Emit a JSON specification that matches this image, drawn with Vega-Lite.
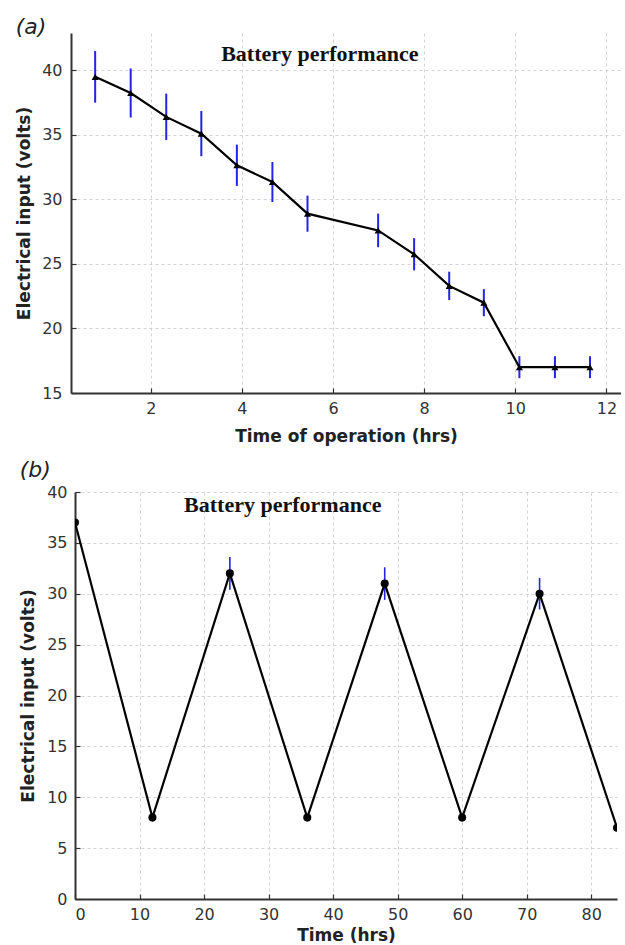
{
  "$schema": "https://vega.github.io/schema/vega-lite/v6.json",
  "background": "white",
  "padding": {"left": 15, "top": 16, "right": 0, "bottom": 0},
  "bounds": "flush",
  "center": true,
  "spacing": 99,
  "config": {
    "font": "DejaVu Sans",
    "view": {"stroke": null},
    "axis": {
      "labelFont": "DejaVu Sans", "labelFontSize": 16, "labelColor": "#333333",
      "titleFont": "DejaVu Sans", "titleFontSize": 17, "titleFontWeight": "bold", "titleColor": "#222222",
      "domainColor": "#333333", "domainWidth": 2,
      "tickColor": "#333333", "tickSize": -5, "tickWidth": 1.2,
      "gridColor": "#c8c8c8", "gridDash": [3, 3], "gridWidth": 0.8,
      "labelPadding": 14
    },
    "title": {"font": "DejaVu Sans", "fontSize": 22, "fontWeight": "normal", "fontStyle": "italic", "anchor": "start", "frame": "bounds", "color": "#222222"}
  },
  "vconcat": [
    {
      "width": 550,
      "height": 360,
      "title": {"text": "(a)", "offset": -6},
      "data": {"values": [
        {"t": 0.78, "v": 39.5, "err": 2.0},
        {"t": 1.56, "v": 38.25, "err": 1.9},
        {"t": 2.34, "v": 36.4, "err": 1.8},
        {"t": 3.11, "v": 35.1, "err": 1.75},
        {"t": 3.89, "v": 32.65, "err": 1.6},
        {"t": 4.67, "v": 31.35, "err": 1.55},
        {"t": 5.44, "v": 28.9, "err": 1.4},
        {"t": 6.99, "v": 27.6, "err": 1.3},
        {"t": 7.78, "v": 25.75, "err": 1.25},
        {"t": 8.55, "v": 23.3, "err": 1.1},
        {"t": 9.31, "v": 22.0, "err": 1.05},
        {"t": 10.09, "v": 17.0, "err": 0.85},
        {"t": 10.87, "v": 17.0, "err": 0.85},
        {"t": 11.64, "v": 17.0, "err": 0.85}
      ]},
      "layer": [
        {"mark": {"type": "errorbar", "color": "#2424e6", "thickness": 2, "ticks": false},
         "encoding": {
           "x": {"field": "t", "type": "quantitative",
                 "scale": {"domain": [0.25, 12.32], "nice": false, "zero": false},
                 "axis": {"values": [2, 4, 6, 8, 10, 12], "title": "Time of operation (hrs)", "titlePadding": 12, "labelPadding": 12}},
           "y": {"field": "v", "type": "quantitative",
                 "scale": {"domain": [15, 42.9], "nice": false, "zero": false},
                 "axis": {"values": [15, 20, 25, 30, 35, 40], "title": "Electrical input (volts)", "titlePadding": 8}},
           "yError": {"field": "err"}}},
        {"mark": {"type": "line", "color": "black", "strokeWidth": 2.2, "clip": true},
         "encoding": {"x": {"field": "t", "type": "quantitative"}, "y": {"field": "v", "type": "quantitative"}}},
        {"mark": {"type": "point", "shape": "triangle-up", "filled": true, "color": "black", "opacity": 1, "size": 50, "clip": true},
         "encoding": {"x": {"field": "t", "type": "quantitative"}, "y": {"field": "v", "type": "quantitative"}}},
        {"data": {"values": [{"label": "Battery performance"}]},
         "mark": {"type": "text", "font": "Liberation Serif", "fontWeight": "bold", "fontSize": 22, "align": "center", "baseline": "alphabetic", "color": "#111111"},
         "encoding": {"x": {"datum": 5.71, "type": "quantitative"}, "y": {"datum": 40.75, "type": "quantitative"}, "text": {"field": "label"}}}
      ]
    },
    {
      "width": 542,
      "height": 407,
      "title": {"text": "(b)", "offset": 2},
      "data": {"values": [
        {"t": 0, "v": 37, "err": 0},
        {"t": 12, "v": 8, "err": 0},
        {"t": 24, "v": 32, "err": 1.6},
        {"t": 36, "v": 8, "err": 0},
        {"t": 48, "v": 31, "err": 1.6},
        {"t": 60, "v": 8, "err": 0},
        {"t": 72, "v": 30, "err": 1.55},
        {"t": 84, "v": 7, "err": 0}
      ]},
      "layer": [
        {"mark": {"type": "errorbar", "color": "#2424e6", "thickness": 1.6, "ticks": false},
         "encoding": {
           "x": {"field": "t", "type": "quantitative",
                 "scale": {"domain": [0, 84], "nice": false, "zero": false},
                 "axis": {"values": [0, 10, 20, 30, 40, 50, 60, 70, 80], "title": "Time (hrs)", "titlePadding": 5, "labelPadding": 12}},
           "y": {"field": "v", "type": "quantitative",
                 "scale": {"domain": [0, 40], "nice": false},
                 "axis": {"values": [0, 5, 10, 15, 20, 25, 30, 35, 40], "title": "Electrical input (volts)", "titlePadding": 9, "labelPadding": 13}},
           "yError": {"field": "err"}}},
        {"mark": {"type": "line", "color": "black", "strokeWidth": 2.2, "clip": true},
         "encoding": {"x": {"field": "t", "type": "quantitative"}, "y": {"field": "v", "type": "quantitative"}}},
        {"mark": {"type": "point", "shape": "circle", "filled": true, "color": "black", "opacity": 1, "size": 65, "clip": true},
         "encoding": {"x": {"field": "t", "type": "quantitative"}, "y": {"field": "v", "type": "quantitative"}}},
        {"data": {"values": [{"label": "Battery performance"}]},
         "mark": {"type": "text", "font": "Liberation Serif", "fontWeight": "bold", "fontSize": 22, "align": "center", "baseline": "alphabetic", "color": "#111111"},
         "encoding": {"x": {"datum": 32.2, "type": "quantitative"}, "y": {"datum": 38.0, "type": "quantitative"}, "text": {"field": "label"}}}
      ]
    }
  ]
}
